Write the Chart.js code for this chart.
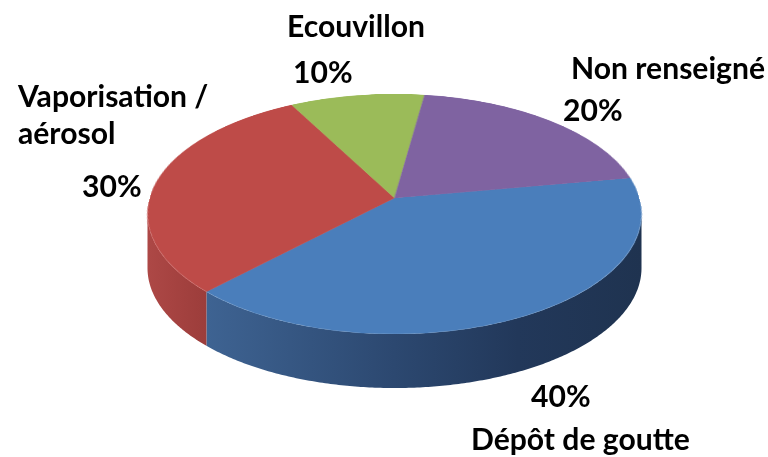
<!DOCTYPE html>
<html>
<head>
<meta charset="utf-8">
<script src="https://cdn.jsdelivr.net/npm/chart.js@4.4.1/dist/chart.umd.min.js"></script>
<style>
  html, body { margin: 0; padding: 0; background: #ffffff; }
  #wrap { width: 768px; height: 457px; position: relative; }
</style>
</head>
<body>
<div id="wrap"><canvas id="c" width="768" height="457"></canvas></div>
<script>
// ---- data ----
const categories = ['Dépôt de goutte', 'Vaporisation / aérosol', 'Ecouvillon', 'Non renseigné'];
const values = [40, 30, 10, 20];
const nameLines = [['Dépôt de goutte'], ['Vaporisation /', 'aérosol'], ['Ecouvillon'], ['Non renseigné']];

// ---- styles / layout ----
const topColors = ['#4a7ebb', '#be4b48', '#9bbb59', '#7f63a1'];
const sideStops = [
  [[0, '#4670a5'], [0.12, '#3e6392'], [0.5, '#2c4870'], [0.75, '#22385a'], [1, '#1f3350']],
  [[0, '#ad4846'], [0.05, '#a64341'], [0.12, '#9c3d3b'], [1, '#8a3432']],
  [[0, '#7d9a45'], [1, '#5f7633']],
  [[0, '#65508a'], [1, '#4a3a66']]
];
// perspective view of the pie: screen = center + (u*S, v*B)/(1 + C*v)
const VIEW = { cx: 394.5, cy: 198, S: 244.8, B: 117.9, C: -0.1333, depth: 54 };
const ROTATION = 80;
// label placement: [left x, baseline y] per line
const nameLayout = [[[471, 450]], [[18, 107], [18, 144]], [[287, 37]], [[571, 79]]];
const pctLayout = [[531, 407], [82, 197], [293, 83], [563, 121]];
const FONT_FAMILY = 'Lato, "DejaVu Sans", sans-serif';

function project(phi) {
  const u = Math.cos(phi), v = Math.sin(phi);
  const k = 1 + VIEW.C * v;
  return [VIEW.cx + u * VIEW.S / k, VIEW.cy + v * VIEW.B / k];
}

const pie3d = {
  id: 'pie3d',
  afterDatasetsDraw(chart) {
    const meta = chart.getDatasetMeta(0);
    const ctx = chart.ctx;
    const a0 = meta.data[0];
    const px = a0.x, py = a0.y, R = a0.outerRadius;

    // keep the flat pie the library just drew, then clear
    const src = document.createElement('canvas');
    src.width = chart.canvas.width; src.height = chart.canvas.height;
    src.getContext('2d').drawImage(chart.canvas, 0, 0);
    ctx.save();
    ctx.setTransform(1, 0, 0, 1, 0, 0);
    ctx.clearRect(0, 0, chart.canvas.width, chart.canvas.height);

    // side walls (visible front band between the silhouette points)
    const phiA = Math.asin(-VIEW.C), phiB = Math.PI - phiA;
    const xl = VIEW.cx - VIEW.S / Math.sqrt(1 - VIEW.C * VIEW.C);
    const xr = VIEW.cx + VIEW.S / Math.sqrt(1 - VIEW.C * VIEW.C);
    meta.data.forEach((arc, i) => {
      for (const k of [-2 * Math.PI, 0, 2 * Math.PI]) {
        const s = Math.max(arc.startAngle, k + phiA), e = Math.min(arc.endAngle, k + phiB);
        if (e <= s) continue;
        const n = Math.max(2, Math.ceil((e - s) / 0.01));
        const pts = [];
        for (let j = 0; j <= n; j++) pts.push(project(s + (e - s) * j / n));
        const g = ctx.createLinearGradient(xl, 0, xr, 0);
        sideStops[i].forEach(st => g.addColorStop(st[0], st[1]));
        ctx.beginPath();
        pts.forEach((p, j) => j ? ctx.lineTo(p[0], p[1]) : ctx.moveTo(p[0], p[1]));
        for (let j = pts.length - 1; j >= 0; j--) ctx.lineTo(pts[j][0], pts[j][1] + VIEW.depth);
        ctx.closePath();
        ctx.fillStyle = g;
        ctx.fill();
      }
    });

    // top face: perspective warp of the library-drawn pie, one screen row at a time
    const yTop = Math.floor(VIEW.cy - VIEW.B / (1 - VIEW.C));
    const yBot = Math.ceil(VIEW.cy + VIEW.B / (1 + VIEW.C));
    ctx.imageSmoothingEnabled = true;
    for (let y = yTop; y <= yBot; y++) {
      const dy = y + 0.5 - VIEW.cy;
      const v = dy / (VIEW.B - VIEW.C * dy);
      if (v < -1 || v > 1) continue;
      const k = 1 + VIEW.C * v;
      const half = VIEW.S / k;
      const sy = py + v * R - 0.5;
      ctx.drawImage(src, px - R, sy, 2 * R, 1, VIEW.cx - half, y, 2 * half, 1);
    }
    ctx.restore();
  },
  afterDraw(chart) {
    const ctx = chart.ctx;
    ctx.save();
    ctx.font = 'bold 100px ' + FONT_FAMILY;
    const w = ctx.measureText('Dépôt de goutte').width;
    const size = 100 * 219 / w;
    ctx.font = 'bold ' + size.toFixed(1) + 'px ' + FONT_FAMILY;
    ctx.fillStyle = '#000000';
    ctx.textAlign = 'left';
    ctx.textBaseline = 'alphabetic';
    const total = values.reduce((a, b) => a + b, 0);
    nameLines.forEach((lines, i) => {
      lines.forEach((t, j) => ctx.fillText(t, nameLayout[i][j][0], nameLayout[i][j][1]));
      const pct = Math.round(values[i] / total * 100) + '%';
      ctx.fillText(pct, pctLayout[i][0], pctLayout[i][1]);
    });
    ctx.restore();
  }
};

new Chart(document.getElementById('c'), {
  type: 'pie',
  data: {
    labels: categories,
    datasets: [{
      data: values,
      backgroundColor: topColors,
      borderColor: topColors,
      borderWidth: 0.5
    }]
  },
  options: {
    responsive: false,
    animation: false,
    rotation: ROTATION,
    layout: { padding: 4 },
    plugins: { legend: { display: false }, tooltip: { enabled: false } }
  },
  plugins: [pie3d]
});
</script>
</body>
</html>
